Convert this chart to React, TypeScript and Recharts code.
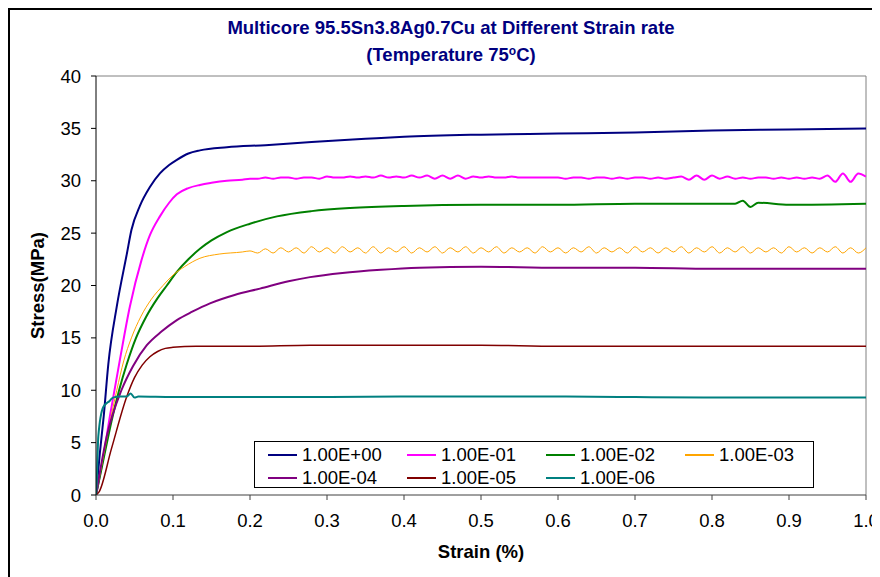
import React from 'react';
import { LineChart, Line, XAxis, YAxis, ReferenceLine, Legend } from 'recharts';

// Strain rate labels (1/s) used for the legend
const rateLabels = ['1.00E+00', '1.00E-01', '1.00E-02', '1.00E-03', '1.00E-04', '1.00E-05', '1.00E-06'];
const rateColors = ['#000080', '#FF00FF', '#008000', '#FFA500', '#800080', '#800000', '#008080'];
const rateWidths = [2, 2, 2, 1, 2, 1.5, 2];

const xTicks = [0, 0.1, 0.2, 0.3, 0.4, 0.5, 0.6, 0.7, 0.8, 0.9, 1.0];
const yTicks = [0, 5, 10, 15, 20, 25, 30, 35, 40];

// 1.00E+00
const strainA = [0, 0.005, 0.01, 0.016, 0.027, 0.04, 0.046, 0.057, 0.07, 0.083, 0.095, 0.105, 0.12, 0.135, 0.17, 0.22, 0.28, 0.35, 0.4, 0.5, 0.6, 0.7, 0.8, 0.9, 1.0];
const stressA = [0, 4, 7.5, 12.5, 18, 23, 25.3, 27.6, 29.4, 30.7, 31.5, 32.0, 32.6, 32.9, 33.2, 33.4, 33.7, 34.0, 34.2, 34.4, 34.5, 34.6, 34.8, 34.9, 35.0];

// 1.00E-01
const strainB = [0, 0.008, 0.018, 0.031, 0.044, 0.059, 0.07, 0.083, 0.095, 0.105, 0.12, 0.135, 0.15, 0.17, 0.19,
  0.20, 0.21, 0.22, 0.23, 0.24, 0.25, 0.26, 0.27, 0.28, 0.29, 0.30, 0.31, 0.32, 0.33, 0.34, 0.35, 0.36, 0.37, 0.38, 0.39,
  0.40, 0.41, 0.42, 0.43, 0.44, 0.45, 0.46, 0.47, 0.48, 0.49, 0.50, 0.51, 0.52, 0.53, 0.54, 0.55, 0.56, 0.57, 0.58, 0.59,
  0.60, 0.61, 0.62, 0.63, 0.64, 0.65, 0.66, 0.67, 0.68, 0.69, 0.70, 0.71, 0.72, 0.73, 0.74, 0.75, 0.76, 0.77, 0.78, 0.79,
  0.80, 0.81, 0.82, 0.83, 0.84, 0.85, 0.86, 0.87, 0.88, 0.89, 0.90, 0.91, 0.92, 0.93, 0.94, 0.95, 0.96, 0.97, 0.98, 0.99, 1.0];
const stressB = [0, 3, 7.5, 12.9, 18, 22.4, 24.8, 26.6, 27.9, 28.7, 29.3, 29.6, 29.8, 30.0, 30.1,
  30.2, 30.2, 30.3, 30.2, 30.3, 30.3, 30.2, 30.3, 30.3, 30.2, 30.4, 30.3, 30.3, 30.4, 30.3, 30.4, 30.3, 30.5, 30.3, 30.4,
  30.3, 30.5, 30.3, 30.5, 30.2, 30.5, 30.2, 30.5, 30.2, 30.4, 30.3, 30.4, 30.3, 30.3, 30.4, 30.3, 30.3, 30.3, 30.3, 30.3,
  30.3, 30.2, 30.3, 30.3, 30.2, 30.3, 30.3, 30.2, 30.3, 30.2, 30.3, 30.3, 30.2, 30.3, 30.2, 30.3, 30.4, 30.1, 30.5, 30.1,
  30.5, 30.2, 30.4, 30.2, 30.3, 30.2, 30.3, 30.3, 30.2, 30.3, 30.2, 30.3, 30.2, 30.3, 30.2, 30.5, 29.9, 30.7, 29.9, 30.7, 30.4];

// 1.00E-02
const strainC = [0, 0.01, 0.02, 0.03, 0.04, 0.052, 0.065, 0.08, 0.092, 0.105, 0.12, 0.135, 0.15, 0.17, 0.2, 0.235, 0.28, 0.33, 0.4, 0.5, 0.6, 0.7, 0.8, 0.83, 0.84, 0.85, 0.86, 0.9, 1.0];
const stressC = [0, 3.5, 7.0, 10.0, 12.5, 15.0, 17.0, 18.8, 20.0, 21.3, 22.5, 23.5, 24.3, 25.1, 25.9, 26.6, 27.1, 27.4, 27.6, 27.7, 27.7, 27.8, 27.8, 27.8, 28.1, 27.5, 27.9, 27.7, 27.8];

// 1.00E-03
const strainD = [0, 0.01, 0.018, 0.027, 0.036, 0.046, 0.058, 0.072, 0.087, 0.1, 0.115, 0.135, 0.16, 0.19,
  0.20, 0.21, 0.22, 0.23, 0.24, 0.25, 0.26, 0.27, 0.28, 0.29, 0.30, 0.31, 0.32, 0.33, 0.34, 0.35, 0.36, 0.37, 0.38, 0.39,
  0.40, 0.41, 0.42, 0.43, 0.44, 0.45, 0.46, 0.47, 0.48, 0.49, 0.50, 0.51, 0.52, 0.53, 0.54, 0.55, 0.56, 0.57, 0.58, 0.59,
  0.60, 0.61, 0.62, 0.63, 0.64, 0.65, 0.66, 0.67, 0.68, 0.69, 0.70, 0.71, 0.72, 0.73, 0.74, 0.75, 0.76, 0.77, 0.78, 0.79,
  0.80, 0.81, 0.82, 0.83, 0.84, 0.85, 0.86, 0.87, 0.88, 0.89, 0.90, 0.91, 0.92, 0.93, 0.94, 0.95, 0.96, 0.97, 0.98, 0.99, 1.0];
const stressD = [0, 3.8, 6.9, 10.0, 12.8, 15.0, 17.0, 18.7, 20.0, 21.0, 21.8, 22.6, 23.0, 23.2,
  23.3, 23.1, 23.5, 23.1, 23.6, 23.2, 23.6, 23.1, 23.7, 23.2, 23.6, 23.1, 23.7, 23.2, 23.6, 23.1, 23.7, 23.1, 23.6, 23.2,
  23.7, 23.1, 23.6, 23.2, 23.7, 23.1, 23.6, 23.2, 23.7, 23.1, 23.6, 23.2, 23.7, 23.1, 23.6, 23.2, 23.6, 23.1, 23.7, 23.2,
  23.6, 23.1, 23.6, 23.2, 23.7, 23.1, 23.6, 23.2, 23.6, 23.1, 23.7, 23.2, 23.6, 23.1, 23.6, 23.2, 23.7, 23.1, 23.6, 23.2,
  23.7, 23.1, 23.6, 23.2, 23.7, 23.1, 23.6, 23.2, 23.6, 23.1, 23.7, 23.2, 23.6, 23.1, 23.6, 23.2, 23.7, 23.1, 23.6, 23.1, 23.6];

// 1.00E-04
const strainE = [0, 0.014, 0.033, 0.048, 0.066, 0.085, 0.105, 0.125, 0.148, 0.18, 0.213, 0.25, 0.278, 0.32, 0.37, 0.42, 0.5, 0.6, 0.7, 0.8, 0.9, 1.0];
const stressE = [0, 5.6, 10.0, 12.3, 14.3, 15.6, 16.7, 17.5, 18.3, 19.1, 19.7, 20.4, 20.8, 21.2, 21.5, 21.7, 21.8, 21.7, 21.7, 21.6, 21.6, 21.6];

// 1.00E-05
const strainF = [0, 0.004, 0.02, 0.04, 0.05, 0.06, 0.07, 0.08, 0.09, 0.1, 0.13, 0.2, 0.278, 0.4, 0.5, 0.6, 0.7, 0.8, 0.9, 1.0];
const stressF = [0, 0.3, 4.4, 9.4, 11.2, 12.4, 13.2, 13.7, 14.0, 14.1, 14.2, 14.2, 14.3, 14.3, 14.3, 14.2, 14.2, 14.2, 14.2, 14.2];

// 1.00E-06
const strainG = [0, 0.001, 0.003, 0.0095, 0.018, 0.022, 0.031, 0.04, 0.045, 0.05, 0.055, 0.1, 0.2, 0.3, 0.4, 0.5, 0.6, 0.7, 0.8, 0.9, 1.0];
const stressG = [0, 1.4, 5.6, 8.4, 9.0, 9.3, 9.4, 9.4, 9.7, 9.3, 9.4, 9.35, 9.35, 9.35, 9.4, 9.4, 9.4, 9.35, 9.3, 9.3, 9.3];

const strainSets = [strainA, strainB, strainC, strainD, strainE, strainF, strainG];
const stressSets = [stressA, stressB, stressC, stressD, stressE, stressF, stressG];

const series = rateLabels.map((name, i) => ({
  name,
  color: rateColors[i],
  width: rateWidths[i],
  data: strainSets[i].map((x, j) => ({ x, y: stressSets[i][j] })),
}));

const FONT = '"Liberation Sans", Arial, sans-serif';
const FS = 18.5;

const LegendBox = () => (
  <div
    style={{
      border: '1px solid #000',
      background: '#fff',
      boxSizing: 'border-box',
      width: '100%',
      height: '100%',
      padding: '1px 0 0 13px',
      display: 'grid',
      gridTemplateColumns: '139px 139px 139px 139px',
      gridAutoRows: '23px',
      fontFamily: FONT,
      fontSize: FS,
      color: '#000',
    }}
  >
    {series.map((s) => (
      <div key={s.name} style={{ display: 'flex', alignItems: 'center', whiteSpace: 'nowrap' }}>
        <span style={{ display: 'inline-block', width: 29, height: 2, background: s.color, marginRight: 5 }} />
        <span>{s.name}</span>
      </div>
    ))}
  </div>
);

export default function App() {
  return (
    <div style={{ position: 'relative', width: 872, height: 569, fontFamily: FONT }}>
      <div
        style={{
          position: 'absolute',
          left: 0,
          top: 0,
          width: 872,
          height: 569,
          borderTop: '2px solid #000',
          borderLeft: '2px solid #000',
          boxSizing: 'border-box',
          pointerEvents: 'none',
        }}
      />
      <div
        style={{
          position: 'absolute',
          left: 0,
          width: 886,
          top: 6,
          textAlign: 'center',
          color: '#000080',
          fontWeight: 'bold',
          fontSize: FS,
          lineHeight: '27px',
        }}
      >
        <div>Multicore 95.5Sn3.8Ag0.7Cu at Different Strain rate</div>
        <div>
          (Temperature 75<sup style={{ fontSize: 12, verticalAlign: 'top', lineHeight: '20px' }}>o</sup>C)
        </div>
      </div>
      <LineChart width={872} height={569} margin={{ top: 68, right: 14, bottom: 22, left: 0 }} style={{ overflow: 'visible' }}>
        <XAxis
          type="number"
          dataKey="x"
          domain={[0, 1]}
          ticks={xTicks}
          tickFormatter={(v: number) => v.toFixed(1)}
          allowDataOverflow
          stroke="#404040"
          tick={{ fill: '#000', fontSize: FS, fontFamily: FONT }}
          tickSize={5}
          tickMargin={14}
          height={60}
          label={{ value: 'Strain (%)', position: 'center', dy: 26, fill: '#000', fontSize: FS, fontWeight: 'bold', fontFamily: FONT }}
        />
        <YAxis
          type="number"
          dataKey="y"
          domain={[0, 40]}
          ticks={yTicks}
          allowDataOverflow
          stroke="#000"
          tick={{ fill: '#000', fontSize: FS, fontFamily: FONT }}
          tickSize={5}
          tickMargin={10}
          width={88}
          label={{ value: 'Stress(MPa)', angle: -90, position: 'center', dx: -15, fill: '#000', fontSize: FS, fontWeight: 'bold', fontFamily: FONT }}
        />
        <ReferenceLine y={40} stroke="#808080" strokeWidth={1} />
        <ReferenceLine x={1} stroke="#808080" strokeWidth={1} />
        {series.map((s) => (
          <Line
            key={s.name}
            data={s.data}
            dataKey="y"
            name={s.name}
            type="monotone"
            stroke={s.color}
            strokeWidth={s.width}
            dot={false}
            isAnimationActive={false}
          />
        ))}
        <Legend
          layout="horizontal"
          verticalAlign="middle"
          align="center"
          content={() => <LegendBox />}
          wrapperStyle={{ left: 246, top: 433, width: 560, height: 47 }}
        />
      </LineChart>
    </div>
  );
}
